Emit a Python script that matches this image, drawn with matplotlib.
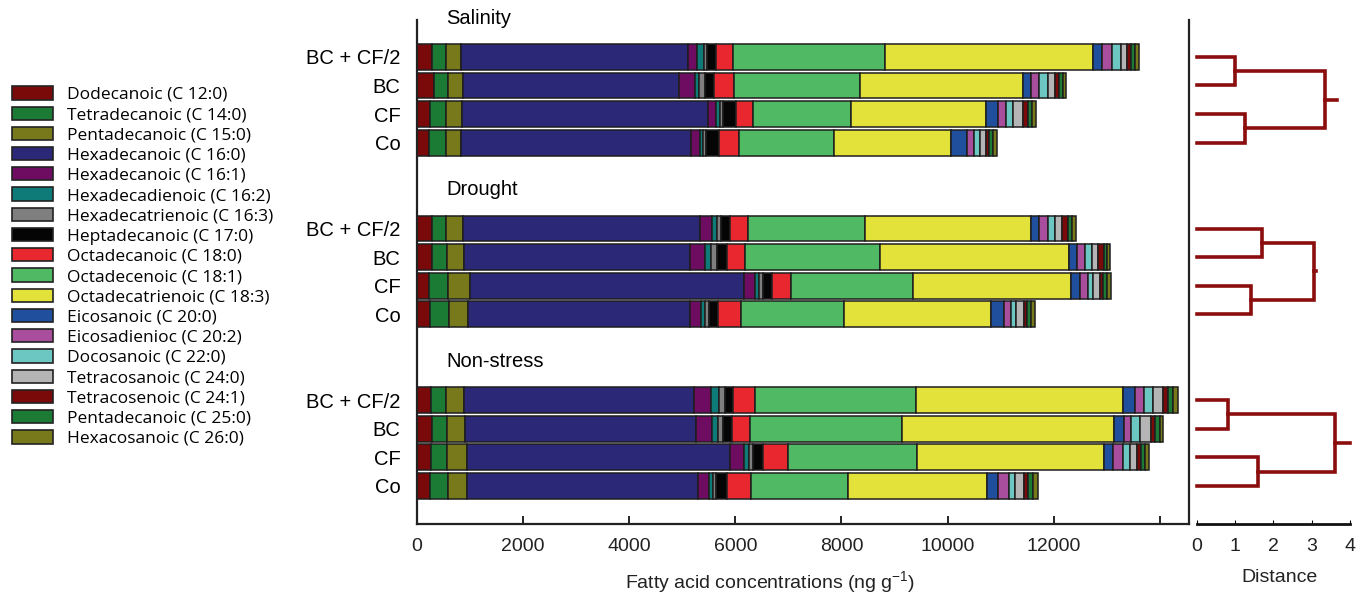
import numpy as np
import matplotlib
matplotlib.use("Agg")
import matplotlib.pyplot as plt
from matplotlib.patches import Patch

plt.rcParams['font.family'] = ['Liberation Sans', 'DejaVu Sans']
plt.rcParams['mathtext.fontset'] = 'custom'
plt.rcParams['mathtext.rm'] = 'Liberation Sans'

acids = ["Dodecanoic (C 12:0)", "Tetradecanoic (C 14:0)", "Pentadecanoic (C 15:0)",
         "Hexadecanoic (C 16:0)", "Hexadecanoic (C 16:1)", "Hexadecadienoic (C 16:2)",
         "Hexadecatrienoic (C 16:3)", "Heptadecanoic (C 17:0)", "Octadecanoic (C 18:0)",
         "Octadecenoic (C 18:1)", "Octadecatrienoic (C 18:3)", "Eicosanoic (C 20:0)",
         "Eicosadienioc (C 20:2)", "Docosanoic (C 22:0)", "Tetracosanoic (C 24:0)",
         "Tetracosenoic (C 24:1)", "Pentadecanoic (C 25:0)", "Hexacosanoic (C 26:0)"]
colors = ["#7a0a0a", "#1b7a34", "#77791b", "#2c2878", "#6e0c62", "#0f7b78",
          "#7f7f7f", "#050505", "#e8282e", "#50b964", "#e3e23b", "#204f9e",
          "#a84e9c", "#6cc7c2", "#b5b5b5", "#7a0a0a", "#1b7a34", "#77791b"]

stresses = ["Salinity", "Drought", "Non-stress"]
treatments = ["BC + CF/2", "BC", "CF", "Co"]

# ng/g per fatty acid, rows follow treatments
salinity = [
    [289, 264, 277, 4284, 170, 132, 51, 170, 326, 2863, 3924, 163, 183, 176, 113, 69, 81, 76],
    [321, 270, 277, 4063, 315, 75, 108, 175, 365, 2377, 3070, 164, 151, 170, 125, 75, 83, 57],
    [245, 308, 296, 4629, 164, 76, 56, 240, 313, 1844, 2547, 227, 156, 132, 197, 81, 75, 82],
    [226, 316, 283, 4340, 175, 57, 56, 246, 377, 1780, 2202, 308, 126, 119, 107, 63, 75, 83],
]
drought = [
    [277, 276, 315, 4472, 221, 94, 76, 162, 353, 2195, 3132, 145, 170, 138, 132, 102, 81, 81],
    [277, 283, 327, 4251, 297, 113, 100, 189, 352, 2542, 3548, 162, 145, 138, 113, 102, 68, 51],
    [226, 353, 421, 5157, 215, 81, 76, 157, 366, 2294, 2982, 170, 145, 107, 119, 57, 70, 75],
    [245, 365, 352, 4190, 201, 69, 82, 163, 441, 1944, 2761, 251, 132, 94, 151, 51, 81, 76],
]
non_stress = [
    [270, 277, 346, 4321, 334, 138, 113, 158, 415, 3031, 3900, 221, 170, 181, 189, 94, 95, 94],
    [289, 271, 340, 4365, 296, 119, 94, 164, 346, 2855, 3989, 200, 126, 164, 214, 81, 89, 50],
    [259, 313, 366, 4955, 264, 95, 88, 183, 472, 2427, 3517, 176, 194, 121, 138, 81, 69, 76],
    [245, 334, 370, 4340, 208, 83, 62, 195, 460, 1823, 2623, 202, 213, 113, 164, 89, 94, 95],
]
groups = [salinity, drought, non_stress]

# dendrogram heights per stress: (pair 1-2, pair 3-4, root, stem end)
dendro = [
    (1.0, 1.25, 3.35, 3.65),
    (1.7, 1.4, 3.05, 3.1),
    (0.8, 1.6, 3.6, 4.0),
]

xticks = [0, 2000, 4000, 6000, 8000, 10000, 12000, 14000]
xticklabels = ["0", "2000", "4000", "6000", "8000", "10000", "12000", ""]

fig = plt.figure(figsize=(13.57, 5.95), dpi=100)
ax = fig.add_axes([0.3073, 0.1193, 0.5689, 0.8471])
axd = fig.add_axes([0.8821, 0.1193, 0.1127, 0.8471], sharey=ax)

gap = 6  # rows per stress block (4 bars + title space)
ypos = []
ylabels = []
for g, data in enumerate(groups):
    arr = np.array(data, dtype=float)
    y = g * gap + np.arange(len(treatments))
    left = np.zeros(len(treatments))
    for k in range(arr.shape[1]):
        ax.barh(y, arr[:, k], left=left, height=0.9, color=colors[k],
                edgecolor="#1e1e1e", linewidth=1.1)
        left += arr[:, k]
    ax.text(550, g * gap - 1.35, stresses[g], fontsize=14.5, ha="left", va="center",
            clip_on=False)
    ypos.extend(y)
    ylabels.extend(treatments)

    # dendrogram for this block
    h1, h2, h3, h4 = dendro[g]
    dc = "#8b0d0d"
    lw = 2.6
    y0 = g * gap
    axd.plot([0, h1, h1, 0], [y0, y0, y0 + 1, y0 + 1], color=dc, lw=lw, clip_on=False,
             solid_joinstyle="miter")
    axd.plot([0, h2, h2, 0], [y0 + 2, y0 + 2, y0 + 3, y0 + 3], color=dc, lw=lw,
             clip_on=False, solid_joinstyle="miter")
    axd.plot([h1, h3, h3, h2], [y0 + 0.5, y0 + 0.5, y0 + 2.5, y0 + 2.5], color=dc, lw=lw,
             clip_on=False, solid_joinstyle="miter")
    axd.plot([h3, h4], [y0 + 1.5, y0 + 1.5], color=dc, lw=lw, clip_on=False)

ax.set_yticks(ypos)
ax.set_yticklabels(ylabels, fontsize=14.5)
ax.tick_params(axis="y", length=0, pad=12)
ax.set_ylim(16.33, -1.29)
ax.set_xlim(0, 14550)
ax.set_xticks(xticks)
ax.set_xticklabels(xticklabels, fontsize=14, color="#222222")
ax.tick_params(axis="x", direction="in", length=6, width=1.2, pad=10)
ax.spines["top"].set_visible(False)
for s in ["left", "bottom", "right"]:
    ax.spines[s].set_linewidth(1.6)
    ax.spines[s].set_color("#222222")
ax.set_xlabel("Fatty acid concentrations (ng g$^{\\mathrm{-1}}$)", fontsize=14,
              color="#222222")
ax.xaxis.set_label_coords(0.457, -0.09)

axd.set_xlim(0, 4)
axd.set_xticks([0, 1, 2, 3, 4])
axd.tick_params(axis="x", direction="in", length=3, labelsize=14, pad=10,
                labelcolor="#222222")
axd.tick_params(axis="y", left=False, labelleft=False)
for s in ["top", "left", "right"]:
    axd.spines[s].set_visible(False)
axd.spines["bottom"].set_linewidth(2)
axd.spines["bottom"].set_color("#111111")
axd.set_xlabel("Distance", fontsize=14, color="#222222")
axd.xaxis.set_label_coords(0.54, -0.09)

handles = [Patch(facecolor=c, edgecolor="#222222", linewidth=1.2) for c in colors]
fig.legend(handles, acids, loc="upper left", bbox_to_anchor=(0.0088, 0.855),
           frameon=False, handlelength=2.36, handleheight=0.8,
           handletextpad=0.8, labelspacing=0.205, borderaxespad=0, borderpad=0,
           prop={"family": ["Open Sans", "DejaVu Sans"], "size": 12.5})

fig.savefig("out.png", dpi=100)
